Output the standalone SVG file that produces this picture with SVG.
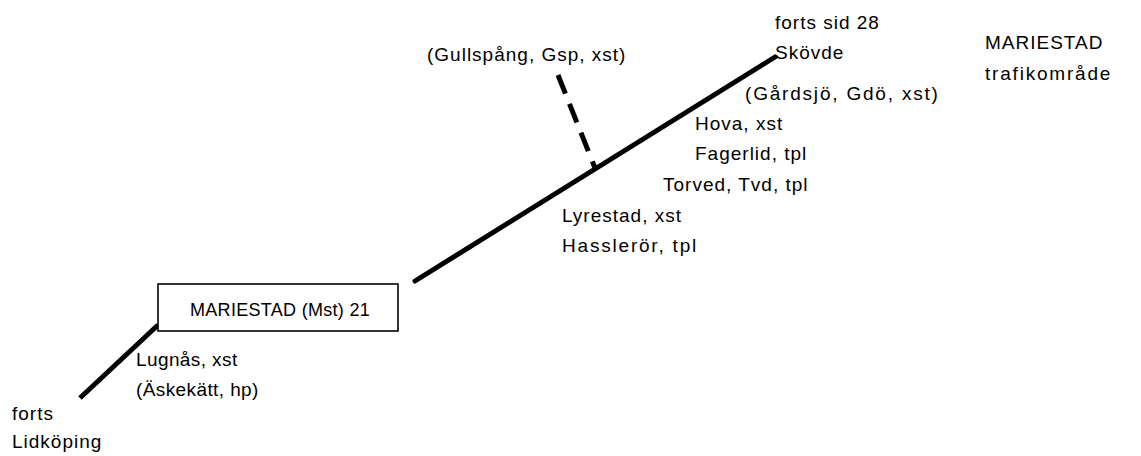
<svg xmlns="http://www.w3.org/2000/svg" width="1141" height="456" viewBox="0 0 1141 456">
<style>
text{font-family:"Liberation Sans",Arial,sans-serif;font-size:19px;fill:#000;letter-spacing:1px}
.ln{stroke:#000;stroke-width:5;fill:none}
.box{fill:#fff;stroke:#000;stroke-width:1.6}
.tight{letter-spacing:0.4px}
.wide{letter-spacing:1.8px}
</style>
<rect width="1141" height="456" fill="#fff"/>
<g id="connectors">
<line class="ln" x1="415" y1="281" x2="775" y2="57" stroke-linecap="round"/>
<line class="ln" x1="558" y1="75" x2="595" y2="168" stroke-dasharray="20 11" stroke-width="4.5"/>
<line class="ln" x1="80" y1="398" x2="158" y2="325" stroke-width="6"/>
</g>
<g id="mariestad">
<rect class="box" x="158" y="284" width="240" height="47"/>
<text x="190" y="316" style="font-size:18px;letter-spacing:0.3px">MARIESTAD (Mst) 21</text>
</g>
<g id="title">
<text x="985" y="49" letter-spacing="2.5">MARIESTAD</text>
<text class="wide" x="985" y="80">trafikområde</text>
</g>
<g id="skovde">
<text x="775" y="29">forts sid 28</text>
<text x="775" y="59">Skövde</text>
</g>
<g id="gullspang"><text x="427" y="61">(Gullspång, Gsp, xst)</text></g>
<g id="gardsjo"><text class="wide" x="745" y="100">(Gårdsjö, Gdö, xst)</text></g>
<g id="hova"><text x="695" y="130">Hova, xst</text></g>
<g id="fagerlid"><text x="695" y="160">Fagerlid, tpl</text></g>
<g id="torved"><text x="663" y="191">Torved, Tvd, tpl</text></g>
<g id="lyrestad"><text x="562" y="222">Lyrestad, xst</text></g>
<g id="hassleror"><text class="wide" x="562" y="252">Hasslerör, tpl</text></g>
<g id="lugnas"><text class="tight" x="136" y="366">Lugnås, xst</text></g>
<g id="askekatt"><text class="tight" x="136" y="396">(Äskekätt, hp)</text></g>
<g id="lidkoping">
<text x="12" y="420">forts</text>
<text x="12" y="448">Lidköping</text>
</g>
</svg>
